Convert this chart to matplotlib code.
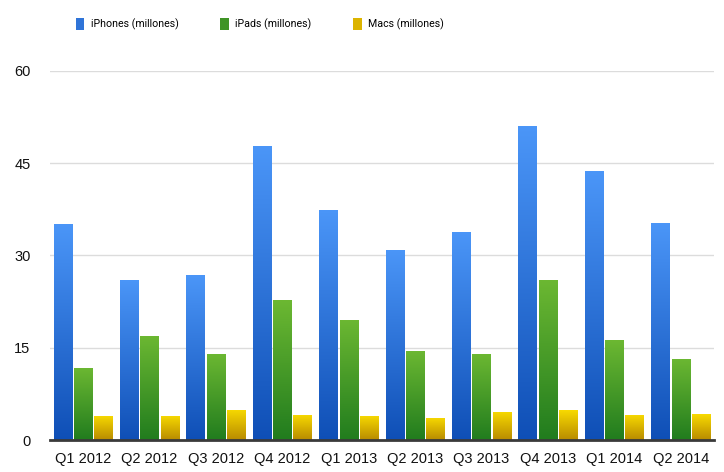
import numpy as np
import matplotlib
matplotlib.use("Agg")
import matplotlib.pyplot as plt
from matplotlib.patches import Patch
from matplotlib.colors import LinearSegmentedColormap
from matplotlib.font_manager import FontProperties

categories = ["Q1 2012", "Q2 2012", "Q3 2012", "Q4 2012", "Q1 2013",
              "Q2 2013", "Q3 2013", "Q4 2013", "Q1 2014", "Q2 2014"]
iphones = [35.1, 26.0, 26.8, 47.8, 37.4, 30.9, 33.8, 51.0, 43.7, 35.3]
ipads = [11.7, 16.9, 14.0, 22.7, 19.5, 14.5, 14.0, 26.0, 16.2, 13.2]
macs = [3.9, 3.9, 4.9, 4.1, 3.9, 3.6, 4.6, 4.8, 4.1, 4.2]
series_names = ["iPhones (millones)", "iPads (millones)", "Macs (millones)"]
yticks = [0, 15, 30, 45, 60]

plt.rcParams['font.family'] = ['Liberation Sans', 'DejaVu Sans']

fig = plt.figure(figsize=(7.24, 4.72), dpi=100)
ax = fig.add_axes([50/724, 1-440/472, 664/724, (440-70.7)/472])

# gradients: (top, bottom)
grads = [("#4b96f8", "#0f4fb6"), ("#6cb832", "#217c1e"), ("#f8da00", "#b88b00")]
mids = ["#2f74d8", "#3f9426", "#dcb400"]

x = np.arange(len(categories))
offsets = [-0.305, 0.0, 0.305]
width = 0.28
all_series = [iphones, ipads, macs]

ax.set_xlim(-0.5, len(categories) - 0.5)
ax.set_ylim(0, 60)

for vals, off, (top, bot), mid in zip(all_series, offsets, grads, mids):
    bars = ax.bar(x + off, vals, width=width, color=mid, zorder=2, linewidth=0)
    cmap = LinearSegmentedColormap.from_list("g", [bot, top])
    grad = np.linspace(0, 1, 256).reshape(-1, 1)
    for b in bars:
        x0, y0 = b.get_x(), b.get_y()
        w, h = b.get_width(), b.get_height()
        im = ax.imshow(grad, cmap=cmap, origin="lower", aspect="auto",
                       extent=[x0, x0 + w, y0, y0 + h], zorder=3)
        im.set_clip_path(b)

ax.set_xlim(-0.5, len(categories) - 0.5)
ax.set_ylim(0, 60)
ax.set_yticks(yticks)
ax.set_yticklabels([str(t) for t in yticks])
ax.set_xticks(x)
ax.set_xticklabels(categories)
ax.tick_params(axis="both", length=0, labelsize=10.5, colors="#111111")
ax.tick_params(axis="y", pad=14)
ax.tick_params(axis="x", pad=9)
ax.grid(axis="y", color="#dcdcdc", linewidth=1.0, zorder=0)
ax.set_axisbelow(True)
for s in ["top", "right", "left"]:
    ax.spines[s].set_visible(False)
ax.spines["bottom"].set_color("#3a3a3a")
ax.spines["bottom"].set_linewidth(2.0)
ax.spines["bottom"].set_zorder(5)

handles = [Patch(facecolor=m, edgecolor="none") for m in mids]
leg_font = FontProperties(family=["Roboto", "Liberation Sans"], size=7.7)
fig.legend(handles, series_names, loc="center", bbox_to_anchor=(260/724, 1-24/472),
           ncol=3, frameon=False, prop=leg_font, handlelength=0.78, handleheight=1.4,
           handletextpad=0.6, columnspacing=3.9, borderpad=0, borderaxespad=0)

fig.savefig("out.png", dpi=100, facecolor="white")
